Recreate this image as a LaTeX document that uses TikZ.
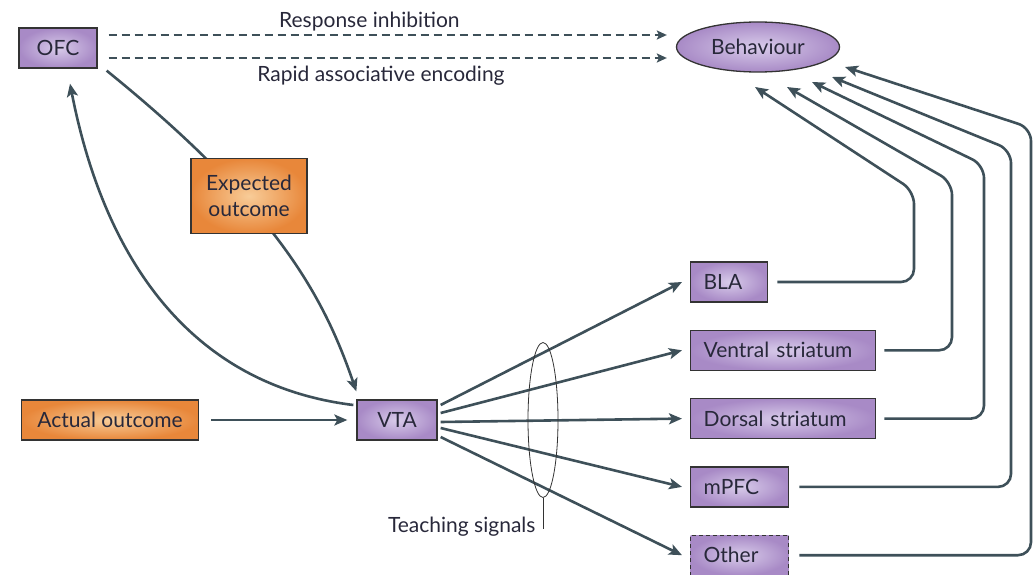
\documentclass[tikz,border=0pt]{standalone}
\usepackage{fontspec}
\setmainfont{Lato}
\usetikzlibrary{arrows.meta,positioning,shapes.geometric}
\definecolor{linkgray}{RGB}{62,80,89}
\definecolor{areaIn}{RGB}{216,203,234}
\definecolor{areaOut}{RGB}{168,138,198}
\definecolor{cueIn}{RGB}{248,204,152}
\definecolor{cueOut}{RGB}{232,135,58}
\definecolor{labeltext}{RGB}{40,40,58}
\tikzset{tag/.style={font=\fontsize{21}{26}\selectfont,text=labeltext}}
\tikzset{area/.style={tag,rectangle,draw=black!80,line width=1.3pt,inner color=areaIn,outer color=areaOut,minimum height=40pt}}
\tikzset{cue/.style={area,inner color=cueIn,outer color=cueOut}}
\tikzset{target/.style={area,align=left,inner xsep=13pt}}
\tikzset{link/.style={draw=linkgray,line width=2.6pt,-{Stealth[length=13pt,width=11pt,inset=3pt]}}}
\tikzset{dashlink/.style={draw=linkgray,line width=1.9pt,dash pattern=on 8pt off 5pt,-{Stealth[length=10pt,width=9pt,inset=2pt]}}}

\begin{document}
\begin{tikzpicture}[x=1pt,y=1pt]
\useasboundingbox (0,0) rectangle (1033,-575);
	\node (ofc) [area, minimum width=78pt] at (58,-48) {OFC} ;
	\node (beh) [area, ellipse, minimum width=163pt, minimum height=50pt] at (758,-47) {Behaviour} ;
	\node (vta) [area, minimum width=80pt] at (397,-420) {VTA} ;
	\node (actual) [cue, minimum width=177pt] at (110,-420) {Actual outcome} ;
	% target regions
	\node (bla) [target, text width=51pt, anchor=west] at (690,-282) {BLA} ;
	\node (vstr) [target, text width=159pt, below=27pt of bla.south west, anchor=north west] {Ventral striatum} ;
	\node (dstr) [target, text width=159pt, below=27pt of vstr.south west, anchor=north west] {Dorsal striatum} ;
	\node (mpfc) [target, text width=72pt, below=27pt of dstr.south west, anchor=north west] {mPFC} ;
	\node (other) [target, text width=72pt, dash pattern=on 4pt off 3pt, below=27pt of mpfc.south west, anchor=north west] {Other} ;
	\coordinate (beh1) at ([shift={(-3,-40)}]beh.center);
	\coordinate (beh2) at ([shift={(29,-40)}]beh.center);
	\coordinate (beh3) at ([shift={(54,-35)}]beh.center);
	\coordinate (beh4) at ([shift={(74,-30)}]beh.center);
	\coordinate (beh5) at ([shift={(87,-20)}]beh.center);

	\draw[dashlink, shorten <=11pt, shorten >=9pt] ([yshift=13pt]ofc.east) -- node[tag, pos=0.47, above] (resp) {Response inhibition} ([yshift=12pt]beh.west);
	\draw[dashlink, shorten <=11pt, shorten >=9pt] ([yshift=-10pt]ofc.east) -- node[tag, pos=0.49, below, yshift=-4pt] (rapid) {Rapid associative encoding} ([yshift=-11pt]beh.west);

	\draw[link] ([xshift=9pt,yshift=-2pt]ofc.south east) to[out=-39, in=109, out distance=220pt, in distance=100pt] ([yshift=8pt]vta.north west);
	\draw[link] ([xshift=-3pt,yshift=15pt]vta.west) to[out=173, in=-79, out distance=170pt, in distance=170pt] ([shift={(12,-15)}]ofc.south);
	\node (expected) [cue, minimum width=116pt, minimum height=75pt, text width=100pt, align=center] at (249,-196) {Expected\\outcome} ;

	\draw[link, shorten <=12pt, shorten >=9pt] (actual) -- (vta);
	\foreach \t/\dy in {bla/15, vstr/7, dstr/-2, mpfc/-8, other/-17}
		\draw[link] ([xshift=3pt,yshift=\dy pt]vta.east) -- ([xshift=-8pt]\t.west);
	\foreach \s/\gap/\cx/\cy/\k in {bla/9/914/191/1, vstr/8/952/182/2, dstr/8/984/165/3, mpfc/10/1011/150/4, other/10/1031/128/5}
		\draw[link, rounded corners=13pt] ([xshift=\gap pt]\s.east) -| (\cx,-\cy) -- (beh\k);

	\node (tsig) [ellipse, draw=black!80, line width=0.8pt, minimum width=30pt, minimum height=155pt] at (543,-420) {} ;
	\node (tlabel) [tag, anchor=base east] at (539,-532) {Teaching signals} ;
	\draw[black!80, line width=0.8pt] (tsig.south) -- (tsig.south |- tlabel.mid);
\end{tikzpicture}
\end{document}
